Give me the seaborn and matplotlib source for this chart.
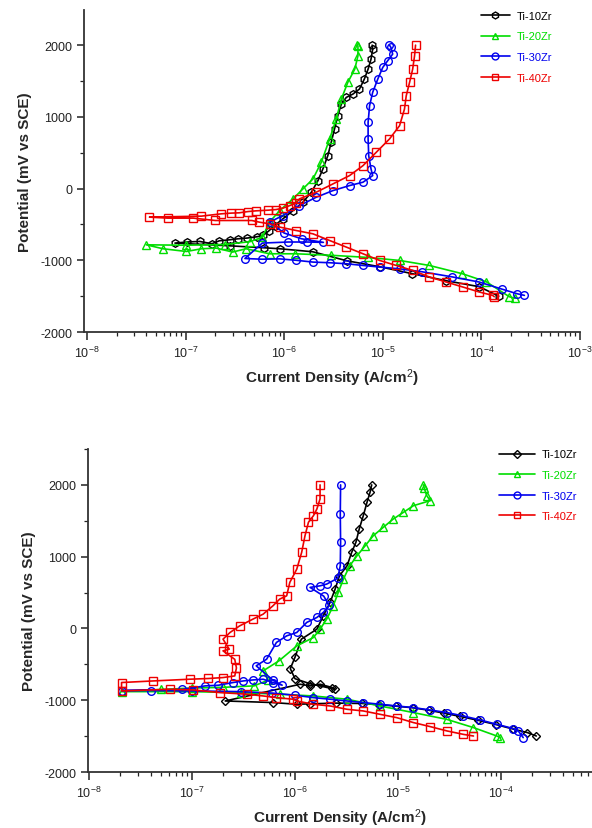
"""Potentiodynamic polarisation curves, Ti-Zr alloys (two panels)"""
import numpy as np
import matplotlib
matplotlib.use('Agg')
import matplotlib.pyplot as plt
from matplotlib.ticker import MultipleLocator, LogLocator
import seaborn as sns

alloys = ['Ti-10Zr', 'Ti-20Zr', 'Ti-30Zr', 'Ti-40Zr']
colors = ['black', '#00dd00', '#0000ee', '#ee0000']

# ---- upper panel (A/cm2, mV vs SCE) ----
top_10_i = [1.5e-4, 9.5e-5, 4.4e-5, 2.0e-5, 9.3e-6, 4.3e-6, 1.95e-6, 9.0e-7, 6.2e-7, 2.8e-7,
            7.8e-8, 1.03e-7, 1.39e-7, 1.85e-7, 2.2e-7, 2.8e-7, 3.4e-7, 4.2e-7, 5.3e-7, 6.1e-7,
            7.0e-7, 8.0e-7, 9.7e-7, 1.23e-6, 1.55e-6, 1.89e-6, 2.2e-6, 2.47e-6, 2.77e-6, 3.0e-6,
            3.24e-6, 3.5e-6, 3.8e-6, 4.27e-6, 4.98e-6, 5.8e-6, 6.5e-6, 7.1e-6, 7.6e-6, 7.9e-6, 7.8e-6]
top_10_e = [-1500, -1368, -1285, -1187, -1090, -1006, -881, -839, -825, -798,
            -760, -745, -737, -769, -728, -714, -700, -690, -672, -654,
            -589, -515, -422, -306, -189, -50, 111, 274, 459, 646,
            831, 1016, 1179, 1272, 1318, 1388, 1527, 1666, 1805, 1944, 2000]

top_20_i = [2.2e-4, 1.92e-4, 1.12e-4, 6.4e-5, 2.97e-5, 1.48e-5, 7.0e-6, 3.0e-6, 1.3e-6, 7.1e-7,
            4.1e-7, 3.0e-7, 2.05e-7, 1.45e-7, 1.02e-7, 5.9e-8, 4.0e-8, 1.0e-7, 2.5e-7, 4.5e-7,
            6.0e-7, 7.1e-7, 9.0e-7, 1.23e-6, 1.55e-6, 1.96e-6, 2.38e-6, 2.89e-6, 3.38e-6, 3.8e-6,
            4.42e-6, 5.2e-6, 5.6e-6, 5.6e-6, 5.45e-6]
top_20_e = [-1530, -1508, -1299, -1187, -1072, -1002, -960, -930, -909, -909,
            -839, -885, -830, -839, -877, -839, -784, -790, -780, -740,
            -680, -468, -306, -143, -4, 135, 367, 692, 970, 1249,
            1481, 1666, 1851, 1990, 2000]

top_30_i = [2.73e-4, 2.3e-4, 1.6e-4, 9.5e-5, 5.0e-5, 2.5e-5, 1.5e-5, 9.3e-6, 6.3e-6, 4.27e-6,
            2.89e-6, 1.96e-6, 1.33e-6, 9.0e-7, 6.0e-7, 4.0e-7, 6.0e-7, 1.1e-6, 1.7e-6, 2.5e-6,
            1.5e-6, 1.0e-6, 7.1e-7, 9.7e-7, 1.43e-6, 2.12e-6, 3.12e-6, 4.6e-6, 6.3e-6, 7.9e-6,
            7.6e-6, 7.2e-6, 7.1e-6, 7.1e-6, 7.35e-6, 7.9e-6, 8.9e-6, 1.0e-5, 1.12e-5, 1.26e-5,
            1.21e-5, 1.17e-5]
top_30_e = [-1489, -1466, -1400, -1303, -1230, -1160, -1120, -1094, -1072, -1048,
            -1034, -1025, -1000, -980, -985, -975, -760, -745, -745, -750,
            -700, -620, -468, -376, -237, -120, -28, 42, 89, 181,
            274, 459, 692, 924, 1155, 1342, 1527, 1690, 1782, 1875,
            1968, 2000]

top_40_i = [1.35e-4, 1.3e-4, 9.5e-5, 6.5e-5, 4.4e-5, 2.97e-5, 2.01e-5, 1.37e-5, 9.3e-6, 6.3e-6,
            4.27e-6, 2.89e-6, 1.96e-6, 1.33e-6, 9.0e-7, 7.1e-7, 5.6e-7, 4.7e-7, 2.0e-7, 1.2e-7,
            6.6e-8, 4.3e-8, 1.45e-7, 2.3e-7, 2.9e-7, 3.5e-7, 4.3e-7, 5.2e-7, 6.9e-7, 8.3e-7,
            9.7e-7, 1.14e-6, 1.33e-6, 1.43e-6, 2.12e-6, 3.12e-6, 4.6e-6, 6.3e-6, 8.6e-6, 1.17e-5,
            1.48e-5, 1.66e-5, 1.73e-5, 1.87e-5, 2.01e-5, 2.1e-5, 2.15e-5]
top_40_e = [-1508, -1489, -1442, -1373, -1303, -1233, -1141, -1072, -1002, -909,
            -816, -724, -631, -585, -537, -491, -468, -445, -445, -412,
            -412, -398, -384, -352, -342, -338, -320, -310, -301, -292,
            -273, -237, -199, -143, -50, 65, 181, 320, 507, 692,
            877, 1109, 1295, 1481, 1666, 1851, 2000]

# ---- lower panel ----
bot_10_i = [2.2e-4, 1.8e-4, 1.3e-4, 9.0e-5, 6.0e-5, 4.0e-5, 2.8e-5, 2.0e-5, 1.4e-5, 9.5e-6,
            6.5e-6, 4.5e-6, 2.5e-6, 1.4e-6, 1.04e-6, 6.1e-7, 2.1e-7, 1.12e-6, 1.4e-6, 1.75e-6,
            2.3e-6, 2.45e-6, 1.4e-6, 1.0e-6, 9.0e-7, 1.0e-6, 1.15e-6, 1.63e-6, 1.88e-6, 2.19e-6,
            2.45e-6, 2.7e-6, 3.2e-6, 3.55e-6, 3.9e-6, 4.2e-6, 4.6e-6, 5.0e-6, 5.35e-6, 5.55e-6]
bot_10_e = [-1498, -1450, -1400, -1340, -1280, -1225, -1180, -1140, -1105, -1082,
            -1060, -1045, -1040, -1050, -1056, -1032, -1010, -777, -800, -777,
            -823, -847, -770, -700, -560, -400, -150, -10, 176, 362,
            548, 734, 873, 1060, 1200, 1385, 1571, 1758, 1897, 2000]

bot_20_i = [9.8e-5, 9.1e-5, 5.4e-5, 2.97e-5, 1.41e-5, 6.7e-6, 3.2e-6, 1.5e-6, 7.1e-7, 3.0e-7,
            1.0e-7, 2.07e-8, 5.0e-8, 1.0e-7, 2.0e-7, 4.0e-7, 5.5e-7, 4.9e-7, 7.0e-7, 1.04e-6,
            1.51e-6, 1.75e-6, 2.03e-6, 2.35e-6, 2.63e-6, 2.95e-6, 3.4e-6, 4.0e-6, 4.8e-6, 5.75e-6,
            7.2e-6, 9.0e-6, 1.13e-5, 1.41e-5, 2.05e-5, 1.9e-5, 1.8e-5, 1.76e-5]
bot_20_e = [-1520, -1498, -1381, -1266, -1172, -1080, -986, -940, -916, -895,
            -880, -880, -850, -830, -820, -800, -720, -591, -450, -243,
            -126, -10, 130, 315, 502, 688, 873, 1013, 1152, 1292,
            1409, 1525, 1618, 1710, 1780, 1850, 1950, 2000]

bot_30_i = [1.64e-4, 1.47e-4, 1.32e-4, 9.1e-5, 6.3e-5, 4.3e-5, 3.0e-5, 2.05e-5, 1.41e-5, 9.7e-6,
            6.7e-6, 4.6e-6, 3.2e-6, 2.2e-6, 1.5e-6, 1.0e-6, 6.0e-7, 3.0e-7, 1.0e-7, 4.0e-8,
            2.07e-8, 8.0e-8, 1.34e-7, 1.8e-7, 2.5e-7, 3.15e-7, 3.9e-7, 4.9e-7, 6.1e-7, 7.5e-7,
            6.1e-7, 4.2e-7, 5.3e-7, 6.6e-7, 8.3e-7, 1.04e-6, 1.3e-6, 1.63e-6, 1.88e-6, 2.15e-6,
            1.9e-6, 1.4e-6, 1.75e-6, 2.03e-6, 2.6e-6, 2.75e-6, 2.77e-6, 2.75e-6, 2.77e-6]
bot_30_e = [-1520, -1428, -1395, -1335, -1275, -1219, -1172, -1136, -1102, -1080,
            -1056, -1032, -1010, -986, -963, -930, -900, -880, -870, -865,
            -865, -850, -800, -791, -753, -731, -717, -707, -753, -790,
            -720, -521, -428, -195, -103, -56, 84, 153, 223, 320,
            450, 572, 594, 618, 700, 873, 1200, 1600, 2000]

bot_40_i = [5.4e-5, 4.3e-5, 3.0e-5, 2.05e-5, 1.41e-5, 9.7e-6, 6.7e-6, 4.6e-6, 3.2e-6, 2.2e-6,
            1.5e-6, 1.04e-6, 9.6e-7, 6.6e-7, 4.9e-7, 3.4e-7, 1.87e-7, 1.03e-7, 6.1e-8, 2.07e-8,
            2.07e-8, 4.2e-8, 9.5e-8, 1.44e-7, 2.0e-7, 2.6e-7, 2.7e-7, 2.6e-7, 2.0e-7, 2.3e-7,
            2.0e-7, 2.34e-7, 2.9e-7, 3.9e-7, 4.9e-7, 6.1e-7, 7.1e-7, 8.3e-7, 8.9e-7, 1.04e-6,
            1.16e-6, 1.25e-6, 1.35e-6, 1.51e-6, 1.63e-6, 1.75e-6, 1.75e-6]
bot_40_e = [-1498, -1475, -1428, -1367, -1311, -1242, -1196, -1149, -1126, -1080,
            -1056, -1010, -986, -963, -940, -916, -893, -856, -847, -870,
            -753, -731, -707, -697, -684, -661, -550, -430, -312, -289,
            -149, -56, 36, 130, 199, 315, 409, 455, 642, 827,
            1060, 1292, 1479, 1571, 1664, 1804, 2000]

top_i = [top_10_i, top_20_i, top_30_i, top_40_i]
top_e = [top_10_e, top_20_e, top_30_e, top_40_e]
bot_i = [bot_10_i, bot_20_i, bot_30_i, bot_40_i]
bot_e = [bot_10_e, bot_20_e, bot_30_e, bot_40_e]
top_markers = ['h', '^', 'o', 's']
bot_markers = ['D', '^', 'o', 's']

sns.set_style('ticks')
plt.rcParams['font.family'] = ['Liberation Sans', 'DejaVu Sans']
plt.rcParams['axes.unicode_minus'] = False
plt.rcParams['mathtext.fontset'] = 'custom'
plt.rcParams['mathtext.rm'] = 'Liberation Sans'
plt.rcParams['mathtext.it'] = 'Liberation Sans:italic'
plt.rcParams['mathtext.bf'] = 'Liberation Sans:bold'


def draw_panel(ax, currents, potentials, markers, xlim, ylim):
    for k in range(len(alloys)):
        ms = 4.5 if markers[k] == 'D' else 5.5
        sns.lineplot(x=currents[k], y=potentials[k], ax=ax, sort=False, estimator=None,
                     color=colors[k], lw=1.2, marker=markers[k], markersize=ms,
                     markerfacecolor='none', markeredgecolor=colors[k],
                     markeredgewidth=1.0, label=alloys[k])
    ax.set_xscale('log')
    ax.set_xlim(*xlim)
    ax.set_ylim(*ylim)
    ax.yaxis.set_major_locator(MultipleLocator(1000))
    ax.yaxis.set_minor_locator(MultipleLocator(500))
    ax.xaxis.set_major_locator(LogLocator(base=10, numticks=12))
    ax.xaxis.set_minor_locator(LogLocator(base=10, subs=np.arange(2, 10), numticks=12))
    ax.tick_params(which='major', direction='out', length=5, width=1.1, labelsize=9,
                   colors='#222222')
    ax.tick_params(which='minor', direction='out', length=3, width=0.9, colors='#222222')
    ax.tick_params(axis='x', which='major', length=6)
    for s in ['left', 'bottom']:
        ax.spines[s].set_linewidth(1.3)
        ax.spines[s].set_color('#333333')
    sns.despine(ax=ax)
    ax.set_xlabel('Current Density (A/cm$^2$)', fontsize=11, fontweight='bold', labelpad=4)
    ax.set_ylabel('Potential (mV vs SCE)', fontsize=11, fontweight='bold', labelpad=6)


fig = plt.figure(figsize=(5.92, 8.29), dpi=100)
ax1 = fig.add_axes([0.1419, 0.5983, 0.8378, 0.3884])
ax2 = fig.add_axes([0.1486, 0.0675, 0.8514, 0.3897])

draw_panel(ax1, top_i, top_e, top_markers, (10 ** -8.03, 1e-3), (-2000, 2490))
draw_panel(ax2, bot_i, bot_e, bot_markers, (10 ** -8.01, 10 ** -3.117), (-2000, 2500))

ax1.legend(loc='upper left', bbox_to_anchor=(0.805, 0.991), bbox_transform=fig.transFigure,
           frameon=False, fontsize=8, handlelength=2.6, handletextpad=0.6,
           labelspacing=0.95, borderaxespad=0, labelcolor='linecolor', markerscale=0.9)
ax2.legend(loc='upper left', bbox_to_anchor=(0.835, 0.462), bbox_transform=fig.transFigure,
           frameon=False, fontsize=8, handlelength=3.3, handletextpad=0.6,
           labelspacing=0.95, borderaxespad=0, labelcolor='linecolor', markerscale=0.9)

fig.savefig('out.png', dpi=100)
